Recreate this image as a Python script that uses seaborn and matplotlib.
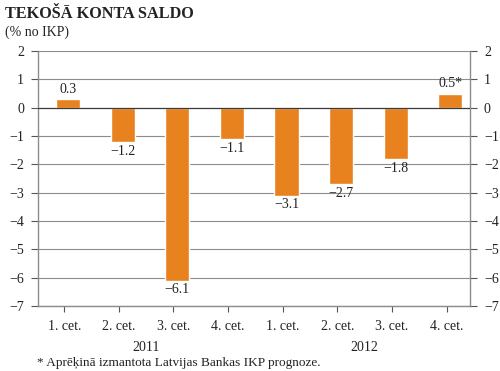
import matplotlib
matplotlib.use("Agg")
import matplotlib.pyplot as plt
import seaborn as sns
import numpy as np
import pandas as pd

quarters = ["1. cet.", "2. cet.", "3. cet.", "4. cet.", "1. cet.", "2. cet.", "3. cet.", "4. cet."]
years = ["2011", "2012"]
values = [0.3, -1.2, -6.1, -1.1, -3.1, -2.7, -1.8, 0.5]
value_labels = ["0.3", "\u22121.2", "\u22126.1", "\u22121.1", "\u22123.1", "\u22122.7", "\u22121.8", "0.5*"]
yticks = list(range(-7, 3))

sns.set_theme(style="white")
plt.rcParams['font.family'] = ['Liberation Serif', 'DejaVu Serif']
plt.rcParams['axes.unicode_minus'] = True

df = pd.DataFrame({"pos": [f"q{i}" for i in range(len(values))], "val": values})

fig = plt.figure(figsize=(5.0, 3.71), dpi=100)
ax = fig.add_axes([0.076, 0.175, 0.864, 0.6875])

sns.barplot(data=df, x="pos", y="val", color="#E8821E", width=0.44,
            saturation=1, ax=ax, zorder=3)

ax.set_ylim(-7, 2)
ax.set_xlim(-0.55, 7.36)
ax.set_yticks(yticks)
ax.set_yticklabels([str(t).replace("-", "\u2212") for t in yticks])
for t in yticks:
    if t == 0:
        ax.axhline(0, color="#3a3a3a", lw=0.9, zorder=4)
    else:
        ax.axhline(t, color="#8c8c8c", lw=0.8, zorder=1)

ax.set_xticks(np.arange(len(values)) - 0.07)
ax.set_xticklabels(quarters)
ax.set_xlabel("")
ax.set_ylabel("")

for s in ["left", "right", "bottom"]:
    ax.spines[s].set_color("#8c8c8c")
    ax.spines[s].set_linewidth(1.0)
ax.spines["top"].set_visible(False)

ax.tick_params(axis="y", which="both", left=True, right=True, labelleft=True,
               labelright=True, length=5, width=0.8, color="#555555",
               labelsize=10, pad=5, colors="#222222")
ax.tick_params(axis="x", bottom=True, length=4, width=0.8, color="#555555",
               labelsize=10, pad=6, labelcolor="#222222")

for i, (v, lab) in enumerate(zip(values, value_labels)):
    if v >= 0:
        ax.text(i, v + 0.12, lab, ha="center", va="bottom", fontsize=10, color="#222222")
    else:
        ax.text(i, v - 0.1, lab, ha="center", va="top", fontsize=10, color="#222222")

ax.text(1.43, -0.135, years[0], transform=ax.get_xaxis_transform(), ha="center",
        va="top", fontsize=10, color="#222222")
ax.text(5.43, -0.135, years[1], transform=ax.get_xaxis_transform(), ha="center",
        va="top", fontsize=10, color="#222222")

fig.text(0.01, 0.985, "TEKOŠĀ KONTA SALDO", ha="left", va="top", fontsize=11.7,
         fontweight="bold", color="#222222")
fig.text(0.01, 0.93, "(% no IKP)", ha="left", va="top", fontsize=10, color="#222222")
fig.text(0.074, 0.006, "* Aprēķinā izmantota Latvijas Bankas IKP prognoze.", ha="left",
         va="bottom", fontsize=9.5, color="#222222")

fig.savefig("out.png", dpi=100)
